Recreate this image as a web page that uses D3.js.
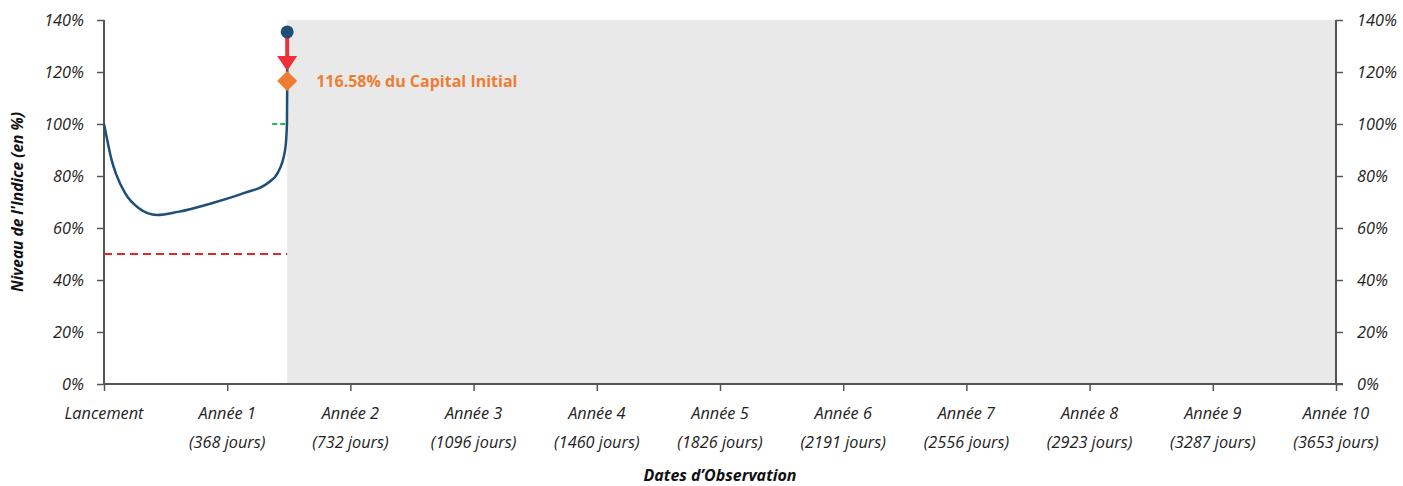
<!DOCTYPE html>
<html>
<head>
<meta charset="utf-8">
<script src="https://cdn.jsdelivr.net/npm/d3@7"></script>
<style>
  body { margin: 0; background: #fff; }
  text { font-family: "Open Sans", "Noto Sans", sans-serif; }
</style>
</head>
<body>
<div id="chart"></div>
<script>
// observation dates (tick labels)
var obsLabels = ["Lancement", "Année 1", "Année 2", "Année 3", "Année 4", "Année 5",
                 "Année 6", "Année 7", "Année 8", "Année 9", "Année 10"];
var obsDays = ["", "(368 jours)", "(732 jours)", "(1096 jours)", "(1460 jours)", "(1826 jours)",
               "(2191 jours)", "(2556 jours)", "(2923 jours)", "(3287 jours)", "(3653 jours)"];
var yTicks = [0, 20, 40, 60, 80, 100, 120, 140];

// index path (x in years since launch, y in %)
var pathYears = [0, 0.03, 0.06, 0.1, 0.17, 0.28, 0.43, 0.6, 0.88, 1.14, 1.33, 1.41, 1.47, 1.485, 1.487, 1.488];
var pathLevel = [100, 93, 86.5, 80.5, 73.5, 67.7, 65, 66.2, 69.6, 73.5, 77.3, 81.2, 90, 100, 115, 135.4];

var today = 1.487;        // current date (years)
var barrier = 50;         // capital protection barrier
var autocall = 100;       // autocall level
var finalValue = 116.58;  // payoff
var payoffLabel = "116.58% du Capital Initial";

var margin = {top: 20, right: 67, bottom: 102, left: 104},
    width = 1403 - margin.left - margin.right,
    height = 486 - margin.top - margin.bottom;

var svg = d3.select("#chart")
  .append("svg")
    .attr("width", 1403)
    .attr("height", 486)
  .append("g")
    .attr("transform", "translate(" + margin.left + "," + margin.top + ")");

var x = d3.scaleLinear().domain([0, 10]).range([0, width]);
var y = d3.scaleLinear().domain([0, 140]).range([height, 0]);

// grey future zone
svg.append("rect")
  .attr("x", x(today))
  .attr("y", y(140))
  .attr("width", x(10) - x(today))
  .attr("height", y(0) - y(140))
  .attr("fill", "#e9e9e9");

// axes
var axisColor = "#555";
var left = svg.append("g")
  .call(d3.axisLeft(y).tickValues(yTicks).tickSize(7).tickPadding(13).tickFormat(function(d) { return d + "%"; }));
var right = svg.append("g")
  .attr("transform", "translate(" + width + ",0)")
  .call(d3.axisRight(y).tickValues(yTicks).tickSize(7).tickPadding(14).tickFormat(function(d) { return d + "%"; }));
var bottom = svg.append("g")
  .attr("transform", "translate(0," + height + ")")
  .call(d3.axisBottom(x).tickValues(d3.range(0, 11)).tickSize(7).tickFormat(""));

[left, right, bottom].forEach(function(a) {
  a.select(".domain").attr("stroke", axisColor).attr("stroke-width", 2);
  a.selectAll(".tick line").attr("stroke", axisColor).attr("stroke-width", 1.5);
  a.selectAll("text")
    .style("font-family", "'Open Sans', sans-serif")
    .style("font-style", "italic")
    .style("font-size", "16.3px")
    .attr("fill", "#222");
});
left.select(".domain").attr("d", "M0," + height + "V0");
right.select(".domain").attr("d", "M0," + height + "V0");
bottom.select(".domain").attr("d", "M0,0H" + (width + 7));

// two-line x tick labels
var xt = svg.append("g").selectAll("g.xl")
  .data(obsLabels)
  .enter().append("g")
    .attr("transform", function(d, i) { return "translate(" + x(i) + "," + height + ")"; });
xt.append("text")
  .attr("y", 35)
  .attr("text-anchor", "middle")
  .style("font-style", "italic").style("font-size", "16.3px").attr("fill", "#222")
  .text(function(d) { return d; });
xt.append("text")
  .attr("y", 64)
  .attr("text-anchor", "middle")
  .style("font-style", "italic").style("font-size", "16.3px").attr("fill", "#222")
  .text(function(d, i) { return obsDays[i]; });

// axis titles
svg.append("text")
  .attr("x", width / 2)
  .attr("y", height + 97)
  .attr("text-anchor", "middle")
  .style("font-style", "italic").style("font-weight", "bold").style("font-size", "16px")
  .attr("fill", "#111")
  .text("Dates d\u2019Observation");
svg.append("text")
  .attr("transform", "translate(" + (-81) + "," + (height / 2) + ") rotate(-90)")
  .attr("text-anchor", "middle")
  .style("font-style", "italic").style("font-weight", "bold").style("font-size", "15.5px")
  .attr("fill", "#111")
  .text("Niveau de l'Indice (en %)");

// barrier line
svg.append("line")
  .attr("x1", x(0)).attr("x2", x(today))
  .attr("y1", y(barrier)).attr("y2", y(barrier))
  .attr("stroke", "#e3262b").attr("stroke-width", 2)
  .attr("stroke-dasharray", "8,5");

// autocall level stub
svg.append("line")
  .attr("x1", x(today) - 15).attr("x2", x(today))
  .attr("y1", y(autocall)).attr("y2", y(autocall))
  .attr("stroke", "#1db954").attr("stroke-width", 2)
  .attr("stroke-dasharray", "5,3");

// index path
var pts = pathYears.map(function(d, i) { return [d, pathLevel[i]]; });
svg.append("path")
  .datum(pts)
  .attr("fill", "none")
  .attr("stroke", "#1f4e79")
  .attr("stroke-width", 2.5)
  .attr("d", d3.line()
    .x(function(d) { return x(d[0]); })
    .y(function(d) { return y(d[1]); })
    .curve(d3.curveMonotoneX));

// red arrow from last level down to payoff
var last = pathLevel[pathLevel.length - 1];
svg.append("line")
  .attr("x1", x(today)).attr("x2", x(today))
  .attr("y1", y(last)).attr("y2", y(finalValue) - 18)
  .attr("stroke", "#e8333a").attr("stroke-width", 4);
svg.append("path")
  .attr("transform", "translate(" + x(today) + "," + (y(finalValue) - 11) + ")")
  .attr("d", "M-10,-14L10,-14L0,1Z")
  .attr("fill", "#ee2e38");

// payoff diamond + label
svg.append("path")
  .attr("transform", "translate(" + x(today) + "," + y(finalValue) + ")")
  .attr("d", "M0,-10L10,0L0,10L-10,0Z")
  .attr("fill", "#ed7d31");
svg.append("text")
  .attr("x", x(today) + 29)
  .attr("y", y(finalValue) + 6)
  .style("font-weight", "bold").style("font-size", "16px")
  .attr("fill", "#ed7d31")
  .text(payoffLabel);

// last observed point
svg.append("circle")
  .attr("cx", x(today))
  .attr("cy", y(last))
  .attr("r", 6.5)
  .attr("fill", "#1f4e79");
</script>
</body>
</html>
